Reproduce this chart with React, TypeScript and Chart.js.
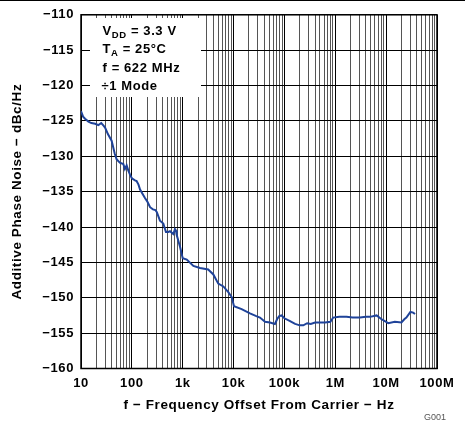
import React, { useEffect, useRef } from 'react';
import { Chart, registerables } from 'chart.js';

Chart.register(...registerables);

// frequency offset (Hz) and additive phase noise (dBc/Hz)
const freqHz = [
  10, 11, 12, 14, 16, 19, 22, 25, 28, 30, 34, 40, 46, 50, 58, 68, 73, 79, 85, 92,
  100, 115, 124, 135, 145, 165, 181, 205, 228, 260, 290, 310, 357, 415, 468, 520, 562, 653, 705, 738,
  760, 885, 1000, 1200, 1620, 2190, 3170, 4000, 5000, 6300, 7870, 9200, 10200, 14400, 21000, 28000, 33000, 41600, 52000, 65000,
  72000, 79000, 88000, 100000, 129000, 162000, 200000, 235000, 280000, 330000, 400000, 470000, 630000, 800000, 910000,
  1.2e6, 1.66e6, 2.2e6, 3.06e6, 4e6, 4.8e6, 6.5e6, 8e6, 11e6, 14.8e6, 20e6, 23e6, 25e6, 30e6, 34e6, 37e6,
];
const noiseDb = [
  -123.6, -124.4, -124.7, -125.1, -125.3, -125.4, -125.6, -125.3, -125.7, -126.0, -126.9, -127.8, -129.6, -130.4, -130.9, -131.1, -131.8, -131.3, -132.0, -132.6,
  -133.1, -133.4, -133.5, -134.0, -134.7, -135.4, -135.9, -136.5, -137.2, -137.5, -137.6, -137.9, -139.1, -139.5, -140.7, -140.7, -140.6, -141.0, -140.3, -140.5,
  -141.1, -142.8, -144.4, -144.6, -145.5, -145.8, -146.0, -146.7, -148.0, -148.4, -149.2, -149.9, -151.2, -151.6, -152.2, -152.6, -152.8, -153.4, -153.5, -153.7,
  -153.0, -152.6, -152.5, -152.9, -153.3, -153.7, -153.9, -153.9, -153.6, -153.7, -153.5, -153.5, -153.5, -153.4, -152.8,
  -152.7, -152.7, -152.8, -152.8, -152.7, -152.7, -152.5, -153.0, -153.6, -153.4, -153.5, -153.0, -152.8, -152.0, -152.1, -152.3,
];

const xDecades = [10, 100, 1e3, 1e4, 1e5, 1e6, 1e7, 1e8];
const xDecadeLabels = ['10', '100', '1k', '10k', '100k', '1M', '10M', '100M'];
const yMin = -160;
const yMax = -110;
const yStep = 5;

// log grid: 1..9 in every decade
const xGrid: number[] = [];
xDecades.forEach((d, i) => {
  if (i === xDecades.length - 1) { xGrid.push(d); return; }
  for (let k = 1; k <= 9; k++) xGrid.push(d * k);
});

const FONT = '"Liberation Sans", Arial, Helvetica, sans-serif';
const SPACING = '0.6px';

const panelPlugin = {
  id: 'panel',
  beforeLayout(chart: Chart) {
    (chart.ctx as any).letterSpacing = SPACING;
  },
  beforeDraw(chart: Chart) {
    (chart.ctx as any).letterSpacing = SPACING;
  },
  beforeDatasetsDraw(chart: Chart) {
    const { ctx, chartArea } = chart;
    ctx.save();
    // white box behind the conditions text
    ctx.fillStyle = '#fff';
    ctx.fillRect(90, 18, 111, 79);

    ctx.fillStyle = '#000';
    ctx.textBaseline = 'alphabetic';
    const x0 = 102.5;
    const big = `bold 13px ${FONT}`;
    const small = `bold 9.5px ${FONT}`;
    const drawSub = (main: string, sub: string, rest: string, y: number) => {
      ctx.font = big;
      ctx.fillText(main, x0, y);
      let x = x0 + ctx.measureText(main).width;
      ctx.font = small;
      ctx.fillText(sub, x, y + 3);
      x += ctx.measureText(sub).width;
      ctx.font = big;
      ctx.fillText(rest, x, y);
    };
    drawSub('V', 'DD', ' = 3.3 V', 35);
    drawSub('T', 'A', ' = 25°C', 53.3);
    ctx.font = big;
    ctx.fillText('f = 622 MHz', x0, 71.7);
    ctx.fillText('÷1 Mode', x0 - 1, 90);

    // frame
    ctx.strokeStyle = '#000';
    ctx.lineWidth = 1.5;
    ctx.strokeRect(chartArea.left, chartArea.top, chartArea.right - chartArea.left, chartArea.bottom - chartArea.top);
    ctx.restore();
  },
  afterDraw(chart: Chart) {
    const { ctx } = chart;
    ctx.save();
    (ctx as any).letterSpacing = '0px';
    ctx.fillStyle = '#555';
    ctx.font = `9px ${FONT}`;
    ctx.textAlign = 'left';
    ctx.textBaseline = 'middle';
    ctx.fillText('G001', 424, 418);
    ctx.restore();
  },
};

export default function App() {
  const canvasRef = useRef<HTMLCanvasElement>(null);

  useEffect(() => {
    if (!canvasRef.current) return;
    const chart = new Chart(canvasRef.current, {
      type: 'line',
      data: {
        datasets: [{
          data: freqHz.map((f, i) => ({ x: f, y: noiseDb[i] })),
          borderColor: '#1f4399',
          borderWidth: 2,
          pointRadius: 0,
          tension: 0,
          fill: false,
        }],
      },
      options: {
        animation: false,
        responsive: true,
        maintainAspectRatio: false,
        layout: { padding: { top: 13.5, right: 28, left: 0, bottom: 0 } },
        plugins: { legend: { display: false }, tooltip: { enabled: false } },
        scales: {
          x: {
            type: 'logarithmic',
            min: 10,
            max: 1e8,
            afterBuildTicks: (scale: any) => { scale.ticks = xGrid.map(v => ({ value: v })); },
            afterFit: (scale: any) => { scale.height = 52.5; },
            ticks: {
              autoSkip: false,
              maxRotation: 0,
              padding: 7,
              color: '#000',
              font: { family: FONT, size: 13, weight: 'bold' },
              callback: (v: any) => {
                const i = xDecades.indexOf(Number(v));
                return i >= 0 ? xDecadeLabels[i] : '';
              },
            },
            grid: {
              drawTicks: false,
              color: (c: any) => (xDecades.includes(c.tick?.value) ? '#000' : '#2a2a2a'),
              lineWidth: (c: any) => (xDecades.includes(c.tick?.value) ? 1 : 0.8),
            },
            border: { display: false },
            title: {
              display: true,
              text: 'f − Frequency Offset From Carrier − Hz',
              color: '#000',
              font: { family: FONT, size: 13.5, weight: 'bold' },
              padding: { top: 0, bottom: 8 },
            },
          },
          y: {
            type: 'linear',
            min: yMin,
            max: yMax,
            afterFit: (scale: any) => { scale.width = 81; },
            ticks: {
              stepSize: yStep,
              padding: 7,
              color: '#000',
              font: { family: FONT, size: 13, weight: 'bold' },
              callback: (v: any) => (Number(v) < 0 ? '−' + Math.abs(Number(v)) : String(v)),
            },
            grid: { drawTicks: false, color: '#000', lineWidth: 1 },
            border: { display: false },
            title: {
              display: true,
              text: 'Additive Phase Noise − dBc/Hz',
              color: '#000',
              font: { family: FONT, size: 13.5, weight: 'bold' },
              padding: { top: 9, bottom: 0 },
            },
          },
        },
      },
      plugins: [panelPlugin],
    });
    return () => chart.destroy();
  }, []);

  return (
    <div style={{ position: 'absolute', left: 0, top: 0, width: 465, height: 421, background: '#fff' }}>
      <div style={{ position: 'absolute', left: 0, top: 0, width: 465, height: 0, borderTop: '1.5px solid #000' }} />
      <canvas ref={canvasRef} />
    </div>
  );
}
